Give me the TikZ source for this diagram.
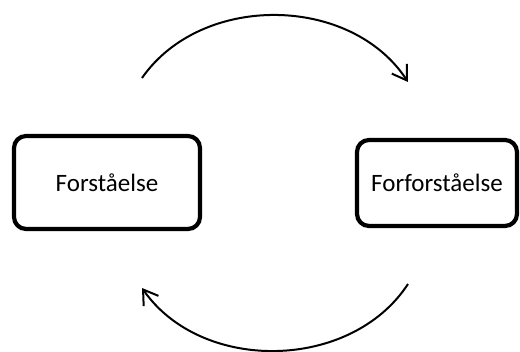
\documentclass[tikz,border=0pt]{standalone}
\usepackage{fontspec}
\setmainfont{Carlito}
\usetikzlibrary{arrows.meta}

\begin{document}
\begin{tikzpicture}[x=1pt,y=1pt,>={Straight Barb[length=14pt,width=18pt]},
  box node/.style={draw,line width=4.2pt,rounded corners=12pt,font=\fontsize{25}{30}\selectfont},
  cycle arrow/.style={->,line width=2pt,bend left=56}]
  \useasboundingbox (0,0) rectangle (520,352);
  \node[box node,minimum width=186pt,minimum height=93pt] (forst) at (107,169.5) {Forståelse};
  \node[box node,minimum width=160pt,minimum height=86pt] (forfor) at (437,169) {Forforståelse};

  \coordinate (top start) at (142,274);
  \coordinate (top end) at (408,270);
  \coordinate (bottom start) at (408,68);
  \coordinate (bottom end) at (142,64);

  \draw[cycle arrow] (top start) to (top end);
  \draw[cycle arrow] (bottom start) to (bottom end);
\end{tikzpicture}
\end{document}
